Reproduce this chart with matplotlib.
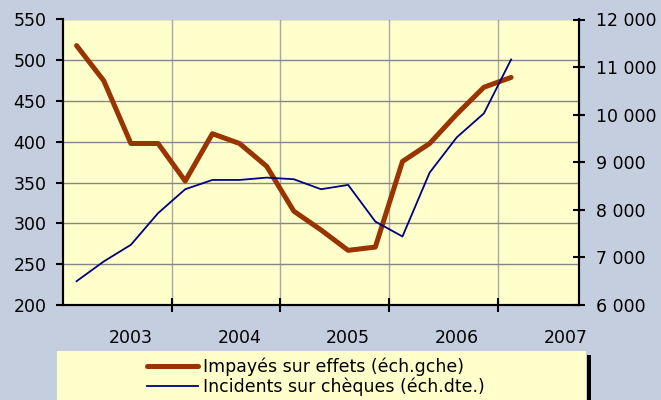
import numpy as np
import matplotlib
matplotlib.use("Agg")
import matplotlib.pyplot as plt
from matplotlib.patches import Rectangle
from matplotlib.ticker import FuncFormatter

# quarterly series, from 2002 Q3 onwards
impayes = [518, 475, 398, 398, 352, 410, 398, 370, 315, 292, 267, 271, 376, 398, 434, 467, 479]
incidents = [6500, 6915, 7265, 7930, 8433, 8628, 8628, 8677, 8643, 8433, 8524, 7754, 7440, 8782, 9524, 10028, 11160]
years = ['2003', '2004', '2005', '2006', '2007']
n_cat = 19

label_impayes = 'Impayés sur effets (éch.gche)'
label_incidents = 'Incidents sur chèques (éch.dte.)'

plt.rcParams['font.family'] = 'DejaVu Sans'
plt.rcParams['font.size'] = 12.5

fig = plt.figure(figsize=(6.61, 4.00), dpi=100)
fig.patch.set_facecolor('#C4CEDF')

ax = fig.add_axes([63 / 661, 95 / 400, 516 / 661, 285.5 / 400])
ax.set_facecolor('#FFFFCC')
ax2 = ax.twinx()

x = np.arange(len(impayes))
l1, = ax.plot(x, impayes, color='#993300', linewidth=3.6, solid_capstyle='round', label=label_impayes)
l2, = ax2.plot(x, incidents, color='#000080', linewidth=1.3, label=label_incidents)

ax.set_xlim(-0.5, n_cat - 0.5)
ax.set_ylim(200, 550)
ax.set_yticks(range(200, 551, 50))
ax2.set_ylim(6000, 12000)
ax2.set_yticks(range(6000, 12001, 1000))
ax2.yaxis.set_major_formatter(FuncFormatter(lambda v, p: f'{int(v):,}'.replace(',', ' ')))

# tick marks between years, labels under the third quarter of each group
ax.set_xticks(np.arange(3.5, n_cat - 1, 4))
ax.set_xticklabels([])
ax.set_xticks(np.arange(2, n_cat, 4), minor=True)
ax.set_xticklabels(years, minor=True)
ax.tick_params(axis='x', which='major', direction='inout', length=10, width=1.5, color='black')
ax.tick_params(axis='x', which='minor', length=0, pad=17)
ax.tick_params(axis='y', direction='out', length=5, width=1.5, pad=7)
ax2.tick_params(axis='y', direction='inout', length=9, width=1.5, pad=8)

ax.grid(axis='y', color='#858585', linewidth=1.0)
ax.grid(axis='x', which='major', color='#A8A8A8', linewidth=1.0)
ax.set_axisbelow(True)

for a in (ax, ax2):
    a.spines['top'].set_visible(False)
    for s in ('left', 'right', 'bottom'):
        a.spines[s].set_linewidth(1.5)
        a.spines[s].set_color('black')

# legend box with its black shadow at the right
fig.patches.append(Rectangle((587 / 661, 0), 4 / 661, 45 / 400, transform=fig.transFigure,
                             facecolor='black', edgecolor='none', zorder=0))
fig.patches.append(Rectangle((57 / 661, 0), 529 / 661, 49 / 400, transform=fig.transFigure,
                             facecolor='#FFFFCC', edgecolor='none', zorder=0))
fig.legend(handles=[l1, l2], loc='upper left', bbox_to_anchor=(147 / 661, 1 - 358 / 400),
           frameon=False, borderpad=0, borderaxespad=0, handlelength=2.95,
           handletextpad=0.3, labelspacing=0.05, fontsize=12.5)

fig.savefig('out.png', dpi=100, facecolor=fig.get_facecolor())
